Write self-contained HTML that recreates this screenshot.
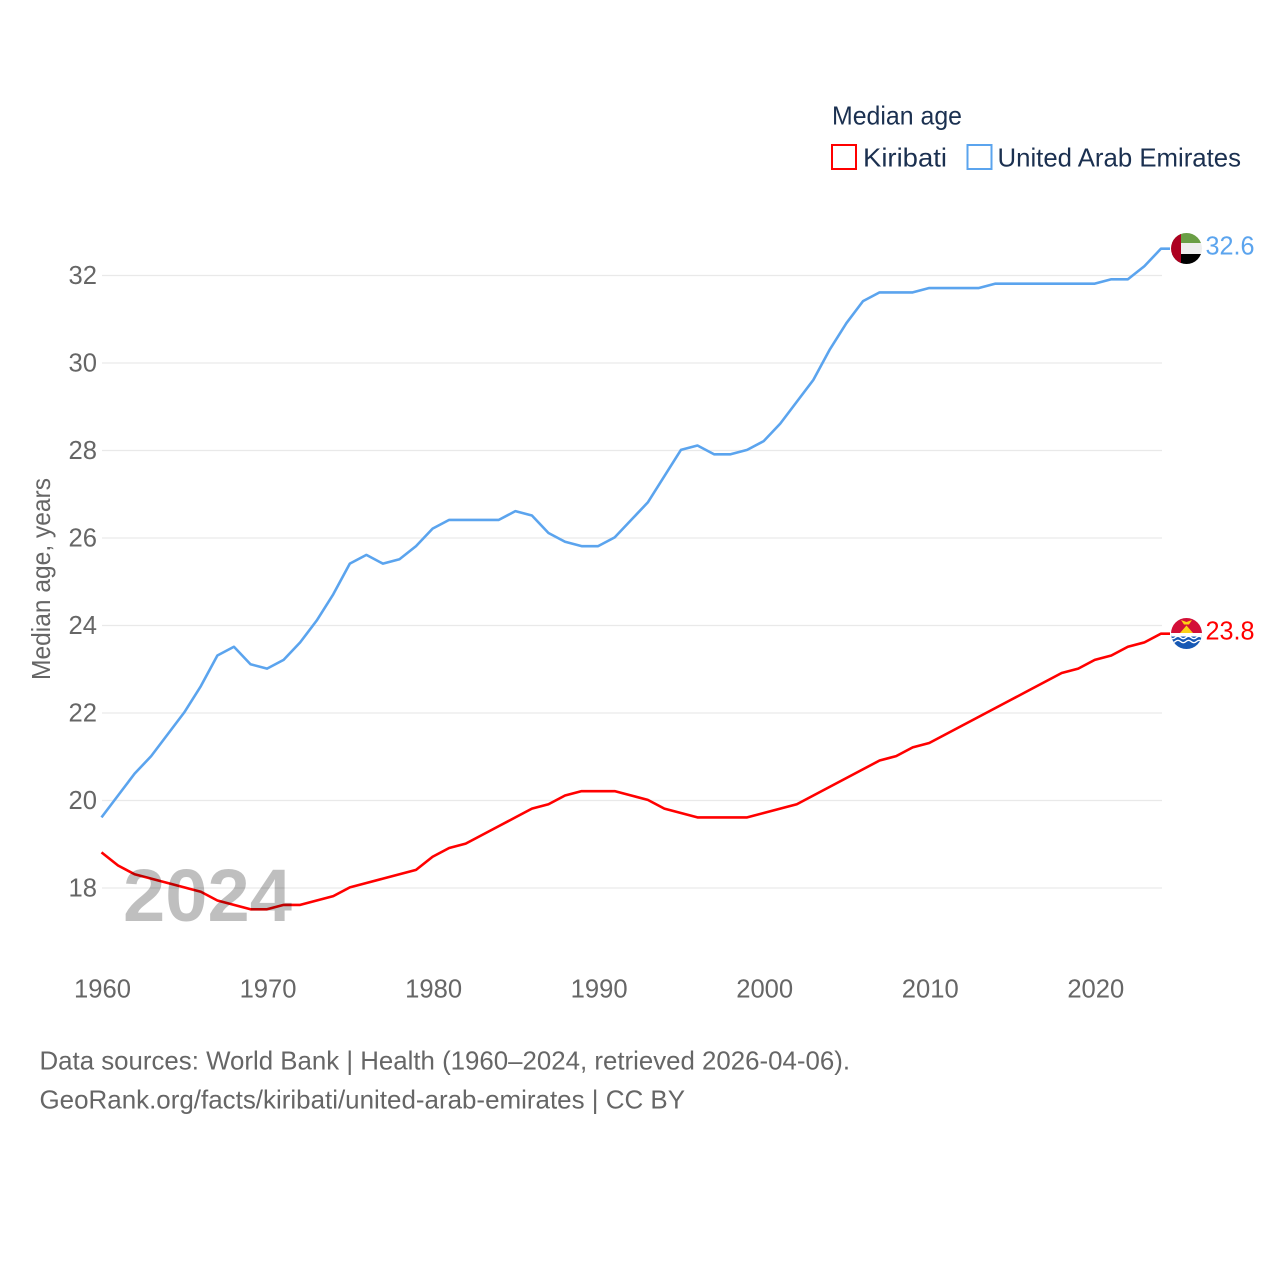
<!DOCTYPE html>
<html lang="en">
<head>
<meta charset="utf-8">
<title>Median age: Kiribati and United Arab Emirates</title>
<style>
html,body{margin:0;padding:0;background:#fff;width:1280px;height:1280px;overflow:hidden}
svg{display:block}
text{font-family:"Liberation Sans",sans-serif}
.tick{font-size:25.6px;fill:#666}
.legend{font-size:26px;fill:#1b3050}
.foot{font-size:26px;fill:#666}
</style>
</head>
<body>
<svg id="chart" width="1280" height="1280" viewBox="0 0 1280 1280" xmlns="http://www.w3.org/2000/svg">
  <defs>
    <clipPath id="clip-uae"><circle cx="1186.5" cy="248.5" r="15.5"/></clipPath>
    <clipPath id="clip-kir"><circle cx="1186.5" cy="633.5" r="15.5"/></clipPath>
  </defs>
  <g id="grid"></g>
  <g id="yticks"></g>
  <g id="xticks"></g>
  <text x="0" y="0" transform="translate(50,680) rotate(-90)" class="tick" font-size="26" textLength="202" lengthAdjust="spacingAndGlyphs">Median age, years</text>

  <text x="832" y="124.500" class="legend" textLength="130" lengthAdjust="spacingAndGlyphs">Median age</text>
  <g>
    <rect x="832" y="145" width="24" height="24" fill="#fff" stroke="#ff0000" stroke-width="2"/>
    <text x="863" y="166.500" class="legend" textLength="84" lengthAdjust="spacingAndGlyphs">Kiribati</text>
  </g>
  <g>
    <rect x="967.5" y="145" width="24" height="24" fill="#fff" stroke="#5ba4ee" stroke-width="2"/>
    <text x="997.500" y="166.500" class="legend" textLength="243.500" lengthAdjust="spacingAndGlyphs">United Arab Emirates</text>
  </g>

  <g id="series"></g>

  <text x="123" y="921" font-size="74" font-weight="700" fill="#000" fill-opacity="0.25" textLength="169" lengthAdjust="spacingAndGlyphs">2024</text>

  <g clip-path="url(#clip-uae)">
    <rect x="1170" y="232" width="34" height="11" fill="#6a9e45"/>
    <rect x="1170" y="243" width="34" height="11" fill="#eeeeee"/>
    <rect x="1170" y="254" width="34" height="11" fill="#000000"/>
    <rect x="1170" y="232" width="11" height="33" fill="#ad0020"/>
  </g>
  <text id="label-uae" x="1205.500" y="254.500" font-size="25.6" fill="#5ba4ee" textLength="49" lengthAdjust="spacingAndGlyphs"></text>

  <g clip-path="url(#clip-kir)">
    <rect x="1170" y="617" width="34" height="17" fill="#d30f37"/>
    <polygon points="1186.500,625.500 1193,633 1180,633" fill="#fcd116"/>
    <polygon points="1181,620 1186.500,622 1192,620 1189,624.500 1184,624.500" fill="#fcd116"/>
    <rect x="1170" y="633" width="34" height="17" fill="#1658b4"/>
    <rect x="1170" y="633" width="34" height="3.500" fill="#ffffff"/>
    <path d="M1170 637.500q2.700 2.400 5.300 0t5.300 0t5.300 0t5.300 0t5.300 0t5.300 0M1170 641.500q2.700 2.400 5.300 0t5.300 0t5.300 0t5.300 0t5.300 0t5.300 0" fill="none" stroke="#ffffff" stroke-width="1.400"/>
  </g>
  <text id="label-kir" x="1205.500" y="639.500" font-size="25.6" fill="#ff0000" textLength="49" lengthAdjust="spacingAndGlyphs"></text>

  <text x="39.500" y="1069.500" class="foot" textLength="810.500" lengthAdjust="spacingAndGlyphs">Data sources: World Bank | Health (1960–2024, retrieved 2026-04-06).</text>
  <text x="39.500" y="1108.500" class="foot" textLength="645.500" lengthAdjust="spacingAndGlyphs">GeoRank.org/facts/kiribati/united-arab-emirates | CC BY</text>
</svg>
<script>
const years = [1960,1961,1962,1963,1964,1965,1966,1967,1968,1969,1970,1971,1972,1973,1974,1975,1976,1977,1978,1979,1980,1981,1982,1983,1984,1985,1986,1987,1988,1989,1990,1991,1992,1993,1994,1995,1996,1997,1998,1999,2000,2001,2002,2003,2004,2005,2006,2007,2008,2009,2010,2011,2012,2013,2014,2015,2016,2017,2018,2019,2020,2021,2022,2023,2024];
const uaeValues = [19.6,20.1,20.6,21.0,21.5,22.0,22.6,23.3,23.5,23.1,23.0,23.2,23.6,24.1,24.7,25.4,25.6,25.4,25.5,25.8,26.2,26.4,26.4,26.4,26.4,26.6,26.5,26.1,25.9,25.8,25.8,26.0,26.4,26.8,27.4,28.0,28.1,27.9,27.9,28.0,28.2,28.6,29.1,29.6,30.3,30.9,31.4,31.6,31.6,31.6,31.7,31.7,31.7,31.7,31.8,31.8,31.8,31.8,31.8,31.8,31.8,31.9,31.9,32.2,32.6];
const kiribatiValues = [18.8,18.5,18.3,18.2,18.1,18.0,17.9,17.7,17.6,17.5,17.5,17.6,17.6,17.7,17.8,18.0,18.1,18.2,18.3,18.4,18.7,18.9,19.0,19.2,19.4,19.6,19.8,19.9,20.1,20.2,20.2,20.2,20.1,20.0,19.8,19.7,19.6,19.6,19.6,19.6,19.7,19.8,19.9,20.1,20.3,20.5,20.7,20.9,21.0,21.2,21.3,21.5,21.7,21.9,22.1,22.3,22.5,22.7,22.9,23.0,23.2,23.3,23.5,23.6,23.8];
const yTickValues = [18,20,22,24,26,28,30,32];
const xTickValues = [1960,1970,1980,1990,2000,2010,2020];

const NS = 'http://www.w3.org/2000/svg';
const xScale = function (year) { return 101.5 + (year - 1960) * (1161 - 101.5) / 64; };
const yScale = function (value) { return 888 - (value - 18) * 43.75; };

const gridGroup = document.getElementById('grid');
const yTickGroup = document.getElementById('yticks');
const xTickGroup = document.getElementById('xticks');
const seriesGroup = document.getElementById('series');

yTickValues.forEach(function (v) {
  const line = document.createElementNS(NS, 'line');
  line.setAttribute('x1', 102);
  line.setAttribute('x2', 1162);
  line.setAttribute('y1', yScale(v));
  line.setAttribute('y2', yScale(v));
  line.setAttribute('stroke', '#e9e9e9');
  line.setAttribute('stroke-width', 1.3);
  
  
  gridGroup.appendChild(line);

  const label = document.createElementNS(NS, 'text');
  label.setAttribute('x', 97);
  label.setAttribute('y', yScale(v) + 8.5);
  label.setAttribute('text-anchor', 'end');
  label.setAttribute('class', 'tick');
  label.textContent = v;
  
  
  yTickGroup.appendChild(label);
});

xTickValues.forEach(function (y) {
  const label = document.createElementNS(NS, 'text');
  label.setAttribute('x', xScale(y) + 1);
  label.setAttribute('y', 997.5);
  label.setAttribute('text-anchor', 'middle');
  label.setAttribute('class', 'tick');
  label.textContent = y;
  
  
  xTickGroup.appendChild(label);
});

function drawSeries(values, color, width) {
  const pts = values.map(function (v, i) { return xScale(years[i]).toFixed(2) + ',' + (yScale(v) - 0.6).toFixed(2); });
  const last = values[values.length - 1];
  pts.push('1170,' + (yScale(last) - 0.6).toFixed(2));
  const line = document.createElementNS(NS, 'polyline');
  line.setAttribute('points', pts.join(' '));
  line.setAttribute('fill', 'none');
  line.setAttribute('stroke', color);
  line.setAttribute('stroke-width', width);
  line.setAttribute('stroke-linejoin', 'round');
  return line;
}

const uaeLine = drawSeries(uaeValues, '#5ba4ee', 2.6);


seriesGroup.appendChild(uaeLine);

const kiribatiLine = drawSeries(kiribatiValues, '#ff0000', 2.6);


seriesGroup.appendChild(kiribatiLine);

document.getElementById('label-uae').textContent = uaeValues[uaeValues.length - 1].toFixed(1);
document.getElementById('label-kir').textContent = kiribatiValues[kiribatiValues.length - 1].toFixed(1);
</script>
</body>
</html>
